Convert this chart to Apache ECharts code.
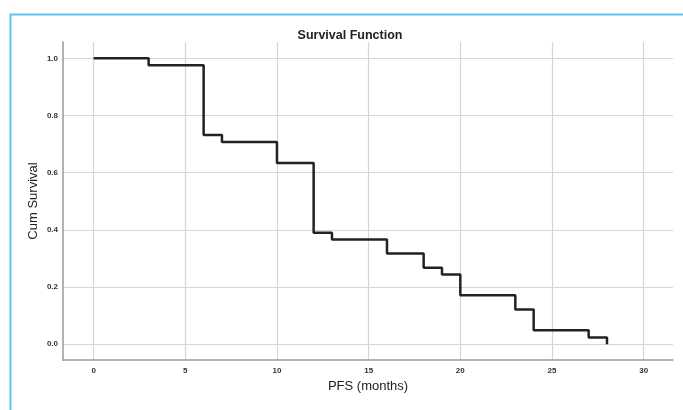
<!DOCTYPE html>
<html>
<head>
<meta charset="utf-8">
<script src="https://cdn.jsdelivr.net/npm/echarts@6/dist/echarts.min.js"></script>
<style>
	html, body { margin: 0; padding: 0; background: #fff; }
	#main { width: 683px; height: 410px; }
</style>
</head>
<body>
<div id="main"></div>
<script>
// step points
var months = [0, 3, 6, 7, 10, 12, 13, 16, 18, 19, 20, 23, 24, 27, 28];
var survival = [1.0, 0.976, 0.732, 0.707, 0.634, 0.390, 0.366, 0.317, 0.268, 0.244, 0.171, 0.122, 0.049, 0.024, 0.0];
var xTicks = [0, 5, 10, 15, 20, 25, 30];
var yTicks = [0, 0.2, 0.4, 0.6, 0.8, 1.0];

var font = '"Liberation Sans", Arial, sans-serif';
var myChart = echarts.init(document.getElementById('main'));

var points = [];
for (var i = 0; i < months.length; i++) {
	points.push([months[i], survival[i]]);
}

var option = {
	animation: false,
	backgroundColor: '#fff',
	title: {
		text: 'Survival Function',
		left: 345,
		textAlign: 'center',
		top: 24,
		textStyle: { fontFamily: font, fontSize: 12.5, fontWeight: 'bold', color: '#222' }
	},
	graphic: [{
		type: 'rect',
		left: 8, top: 12,
		shape: { width: 700, height: 420 },
		style: { fill: 'none', stroke: '#5bc8e8', lineWidth: 2 },
		silent: true
	}],
	grid: { left: 63, top: 42, right: 10, bottom: 50 },
	xAxis: {
		type: 'value',
		min: -1.67,
		max: 31.6,
		name: 'PFS (months)',
		nameLocation: 'middle',
		nameGap: 20,
		nameMoveOverlap: false,
		nameTextStyle: { fontFamily: font, fontSize: 13, color: '#222', verticalAlign: 'top' },
		axisLine: { show: true, onZero: false, lineStyle: { color: '#999', width: 1.5 } },
		axisTick: { show: false, customValues: xTicks },
		axisLabel: {
			customValues: xTicks,
			fontFamily: font, fontSize: 8, fontWeight: 'bold', color: '#333', margin: 7
		},
		splitLine: { show: true, lineStyle: { color: '#d6d6d6', width: 1.2 } }
	},
	yAxis: {
		type: 'value',
		min: -0.055,
		max: 1.057,
		name: 'Cum Survival',
		nameLocation: 'middle',
		nameGap: 23,
		nameMoveOverlap: false,
		nameTextStyle: { fontFamily: font, fontSize: 13, color: '#222' },
		axisLine: { show: true, onZero: false, lineStyle: { color: '#999', width: 1.5 } },
		axisTick: { show: false, customValues: yTicks },
		axisLabel: {
			customValues: yTicks,
			formatter: function (v) { return v.toFixed(1); },
			fontFamily: font, fontSize: 8, fontWeight: 'bold', color: '#333', margin: 5
		},
		splitLine: { show: true, lineStyle: { color: '#d6d6d6', width: 1.2 } }
	},
	series: [{
		name: 'Survival',
		type: 'line',
		step: 'end',
		data: points,
		showSymbol: false,
		lineStyle: { color: '#222', width: 2.5 }
	}]
};
myChart.setOption(option, true);
</script>
</body>
</html>
